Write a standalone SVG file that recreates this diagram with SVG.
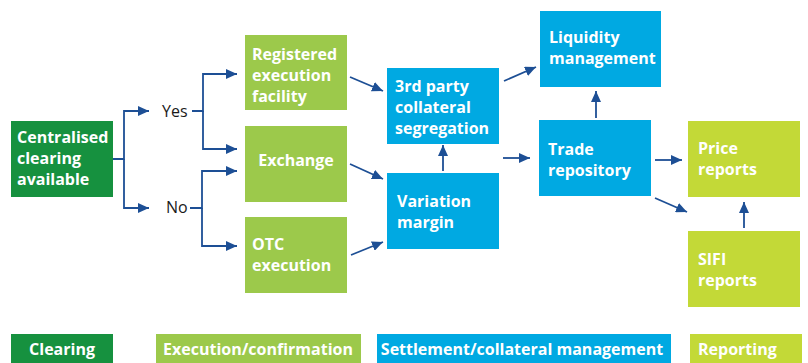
<svg xmlns="http://www.w3.org/2000/svg" width="808" height="363" viewBox="0 0 808 363">
<style>
.dg{fill:#16913f}.lg{fill:#9cc94b}.bl{fill:#00a9e2}.yg{fill:#c3d937}
.t{font-family:"Open Sans",Lato,sans-serif;font-weight:bold;font-size:16px;fill:#fff}
.c{text-anchor:middle}
.lab{font-family:"Open Sans",Lato,sans-serif;font-size:16px;fill:#1a1a1a}
.ln{fill:none;stroke:#1d4f95;stroke-width:1.8}
</style>
<defs>
<marker id="ah" markerUnits="userSpaceOnUse" markerWidth="12" markerHeight="10" refX="11" refY="5" orient="auto">
<path d="M0,0 L11,5 L0,10 Z" fill="#1d4f95"/>
</marker>
</defs>
<g id="connectors">
<path class="ln" d="M113,159 H124 V111 H149" marker-end="url(#ah)"/>
<path class="ln" d="M124,159 V208 H149" marker-end="url(#ah)"/>
<path class="ln" d="M192,111 H203 V74 H237" marker-end="url(#ah)"/>
<path class="ln" d="M203,111 V149 H237" marker-end="url(#ah)"/>
<path class="ln" d="M190,208 H202 V171 H237" marker-end="url(#ah)"/>
<path class="ln" d="M202,208 V246 H237" marker-end="url(#ah)"/>
<path class="ln" d="M350,77 L383,91" marker-end="url(#ah)"/>
<path class="ln" d="M350,164 L383,179" marker-end="url(#ah)"/>
<path class="ln" d="M351,255 L383,242" marker-end="url(#ah)"/>
<path class="ln" d="M443,171 V145" marker-end="url(#ah)"/>
<path class="ln" d="M504,81 L536,67" marker-end="url(#ah)"/>
<path class="ln" d="M503,158 H530" marker-end="url(#ah)"/>
<path class="ln" d="M596,118 V91" marker-end="url(#ah)"/>
<path class="ln" d="M655,160 H682" marker-end="url(#ah)"/>
<path class="ln" d="M655,198 L687,212" marker-end="url(#ah)"/>
<path class="ln" d="M744,228 V202" marker-end="url(#ah)"/>
</g>
<g id="yes"><text class="lab" x="162" y="117">Yes</text></g>
<g id="no"><text class="lab" x="166" y="213">No</text></g>
<g id="centralised">
<rect class="dg" x="11" y="121" width="102" height="76"/>
<text class="t" x="17" y="143">Centralised</text>
<text class="t" x="17" y="164">clearing</text>
<text class="t" x="17" y="185">available</text>
</g>
<g id="ref">
<rect class="lg" x="245" y="35" width="102" height="75"/>
<text class="t" x="252" y="60">Registered</text>
<text class="t" x="252" y="81">execution</text>
<text class="t" x="252" y="102">facility</text>
</g>
<g id="exchange">
<rect class="lg" x="245" y="126" width="102" height="76"/>
<text class="t c" x="296" y="166">Exchange</text>
</g>
<g id="otc">
<rect class="lg" x="245" y="217" width="102" height="76"/>
<text class="t" x="252" y="250">OTC</text>
<text class="t" x="252" y="271">execution</text>
</g>
<g id="thirdparty">
<rect class="bl" x="387" y="68" width="112" height="76"/>
<text class="t" x="395" y="92">3rd party</text>
<text class="t" x="395" y="113">collateral</text>
<text class="t" x="395" y="134">segregation</text>
</g>
<g id="variation">
<rect class="bl" x="387" y="173" width="112" height="76"/>
<text class="t" x="397" y="207">Variation</text>
<text class="t" x="397" y="228">margin</text>
</g>
<g id="liquidity">
<rect class="bl" x="540" y="11" width="121" height="76"/>
<text class="t" x="549" y="43">Liquidity</text>
<text class="t" x="549" y="64">management</text>
</g>
<g id="trade">
<rect class="bl" x="539" y="120" width="112" height="76"/>
<text class="t" x="548" y="155">Trade</text>
<text class="t" x="548" y="176">repository</text>
</g>
<g id="price">
<rect class="yg" x="688" y="121" width="112" height="76"/>
<text class="t" x="698" y="154">Price</text>
<text class="t" x="698" y="175">reports</text>
</g>
<g id="sifi">
<rect class="yg" x="688" y="231" width="112" height="76"/>
<text class="t" x="698" y="265">SIFI</text>
<text class="t" x="698" y="286">reports</text>
</g>
<g id="legend">
<rect class="dg" x="11" y="334" width="102" height="30"/>
<text class="t c" x="62" y="355">Clearing</text>
<rect class="lg" x="156" y="334" width="205" height="30"/>
<text class="t c" x="258" y="355">Execution/confirmation</text>
<rect class="bl" x="377" y="334" width="294" height="30"/>
<text class="t c" x="522" y="355">Settlement/collateral management</text>
<rect class="yg" x="690" y="334" width="112" height="30"/>
<text class="t" x="698" y="355">Reporting</text>
</g>
</svg>
